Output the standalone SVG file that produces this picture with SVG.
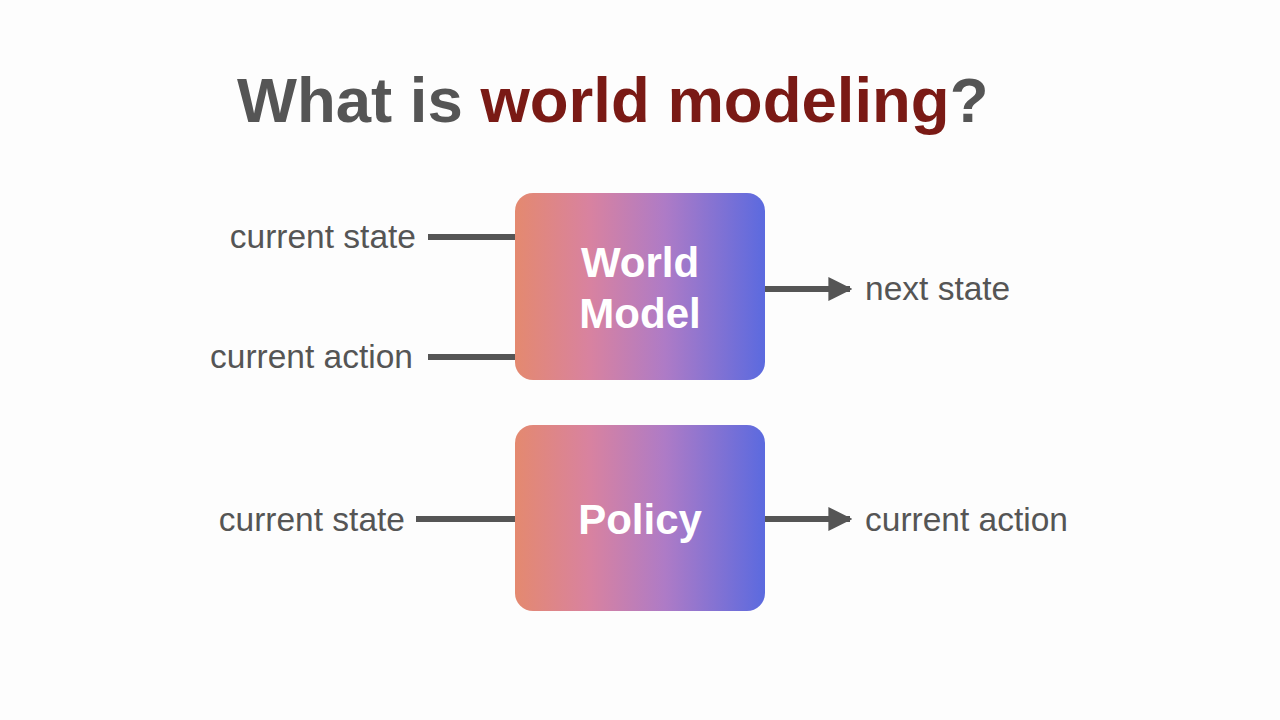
<svg xmlns="http://www.w3.org/2000/svg" width="1280" height="720" viewBox="0 0 1280 720">
  <defs>
    <linearGradient id="grad" x1="0" y1="0" x2="1" y2="0">
      <stop offset="0" stop-color="#E4896F"/>
      <stop offset="0.3" stop-color="#D882A0"/>
      <stop offset="0.6" stop-color="#AE7BC6"/>
      <stop offset="1" stop-color="#5B6ADF"/>
    </linearGradient>
    <marker id="arrow" viewBox="0 0 10 10" refX="9" refY="5" markerWidth="4" markerHeight="4" markerUnits="strokeWidth" orient="auto">
      <path d="M0,0 L10,5 L0,10 Z" fill="#555555"/>
    </marker>
    <style>
      .label { font-family: "Liberation Sans", Arial, sans-serif; font-size: 33.5px; fill: #555555; }
      .box-text { font-family: "Liberation Sans", Arial, sans-serif; font-size: 42px; font-weight: bold; fill: #FFFFFF; text-anchor: middle; }
      .title { font-family: "Liberation Sans", Arial, sans-serif; font-size: 63.5px; font-weight: bold; }
      .line { stroke: #555555; stroke-width: 6; fill: none; }
      .box { fill: url(#grad); }
    </style>
  </defs>
  <rect width="1280" height="720" fill="#FDFDFD"/>

  <g id="title">
    <text class="title" x="237" y="122"><tspan fill="#555555">What is </tspan><tspan fill="#7A1A15">world modeling</tspan><tspan fill="#555555">?</tspan></text>
  </g>

  <g id="connectors">
    <line class="line" x1="428" y1="237" x2="516" y2="237"/>
    <line class="line" x1="428" y1="357" x2="516" y2="357"/>
    <line class="line" x1="764" y1="289" x2="850" y2="289" marker-end="url(#arrow)"/>
    <line class="line" x1="416" y1="519" x2="516" y2="519"/>
    <line class="line" x1="764" y1="519" x2="850" y2="519" marker-end="url(#arrow)"/>
  </g>

  <g id="world-model">
    <rect class="box" x="515" y="193" width="250" height="187" rx="18" ry="18"/>
    <text class="box-text" x="640" y="277">World</text>
    <text class="box-text" x="640" y="328">Model</text>
  </g>

  <g id="policy">
    <rect class="box" x="515" y="425" width="250" height="186" rx="18" ry="18"/>
    <text class="box-text" x="640" y="534">Policy</text>
  </g>

  <g id="labels">
    <text class="label" x="416" y="248" text-anchor="end">current state</text>
    <text class="label" x="413" y="368" text-anchor="end">current action</text>
    <text class="label" x="865" y="300">next state</text>
    <text class="label" x="405" y="531" text-anchor="end">current state</text>
    <text class="label" x="865" y="531">current action</text>
  </g>
</svg>
